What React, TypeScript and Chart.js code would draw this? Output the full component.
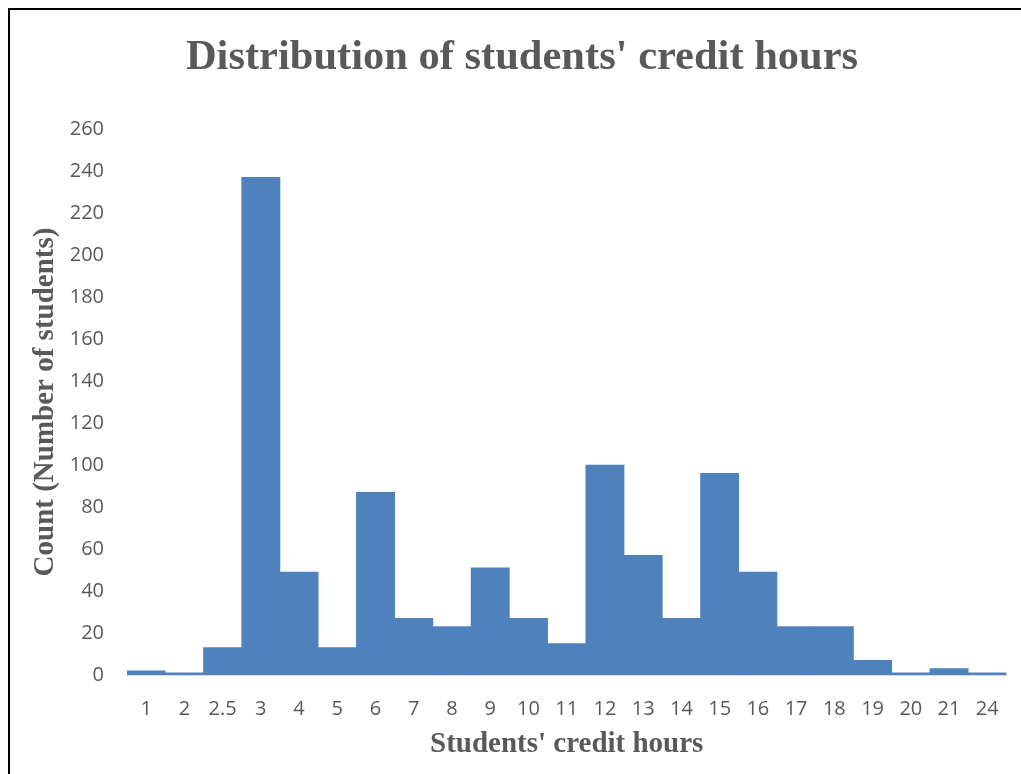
import React, { useEffect, useRef } from "react";
import { Chart, registerables } from "chart.js";

Chart.register(...registerables);

const categories = ["1", "2", "2.5", "3", "4", "5", "6", "7", "8", "9", "10", "11", "12", "13", "14", "15", "16", "17", "18", "19", "20", "21", "24"];
const counts = [2, 1, 13, 237, 49, 13, 87, 27, 23, 51, 27, 15, 100, 57, 27, 96, 49, 23, 23, 7, 1, 3, 1];
const yMin = 0;
const yMax = 260;
const yStep = 20;

const titleText = "Distribution of students' credit hours";
const xTitle = "Students' credit hours";
const yTitle = "Count (Number of students)";

const GRAY = "#595959";
const SERIF = "'Liberation Serif', 'Times New Roman', serif";
const SANS = "'Open Sans', sans-serif";

export default function App() {
  const ref = useRef<HTMLCanvasElement | null>(null);

  useEffect(() => {
    if (!ref.current) return;
    const chart = new Chart(ref.current, {
      type: "bar",
      data: {
        labels: categories,
        datasets: [
          {
            data: counts,
            backgroundColor: "#4F81BD",
            borderWidth: 0,
            barPercentage: 1,
            categoryPercentage: 1,
          },
        ],
      },
      options: {
        animation: false,
        responsive: false,
        maintainAspectRatio: false,
        layout: { padding: { left: 26, right: 13, top: 0, bottom: 0 } },
        plugins: {
          legend: { display: false },
          tooltip: { enabled: false },
          title: {
            display: true,
            text: titleText,
            color: GRAY,
            font: { family: SERIF, size: 42.5, weight: "bold" },
            padding: { top: 23, bottom: 45 },
          },
        },
        scales: {
          x: {
            grid: { display: false, drawTicks: false },
            border: { display: true, color: "#D9D9D9", width: 1 },
            ticks: {
              color: GRAY,
              font: { family: SANS, size: 20 },
              padding: 22,
              maxRotation: 0,
              autoSkip: false,
            },
            title: {
              display: true,
              text: xTitle,
              color: GRAY,
              font: { family: SERIF, size: 29, weight: "bold" },
              padding: { top: 0, bottom: 12 },
            },
            afterFit: (scale: any) => {
              scale.height = 99;
            },
          },
          y: {
            min: yMin,
            max: yMax,
            grid: { display: false, drawTicks: false },
            border: { display: false },
            ticks: {
              stepSize: yStep,
              color: GRAY,
              font: { family: SANS, size: 20 },
              padding: 23,
            },
            title: {
              display: true,
              text: yTitle,
              color: GRAY,
              font: { family: SERIF, size: 29, weight: "bold" },
              padding: { top: -8, bottom: 0 },
            },
            afterFit: (scale: any) => {
              scale.width = 91;
            },
          },
        },
      },
    });
    return () => chart.destroy();
  }, []);

  return (
    <div
      style={{
        position: "fixed",
        left: 8,
        top: 8,
        width: 1013,
        height: 766,
        borderTop: "2px solid #000",
        borderLeft: "2px solid #000",
        boxSizing: "border-box",
        background: "#fff",
        overflow: "hidden",
      }}
    >
      <canvas ref={ref} width={1011} height={764} style={{ display: "block" }} />
    </div>
  );
}
